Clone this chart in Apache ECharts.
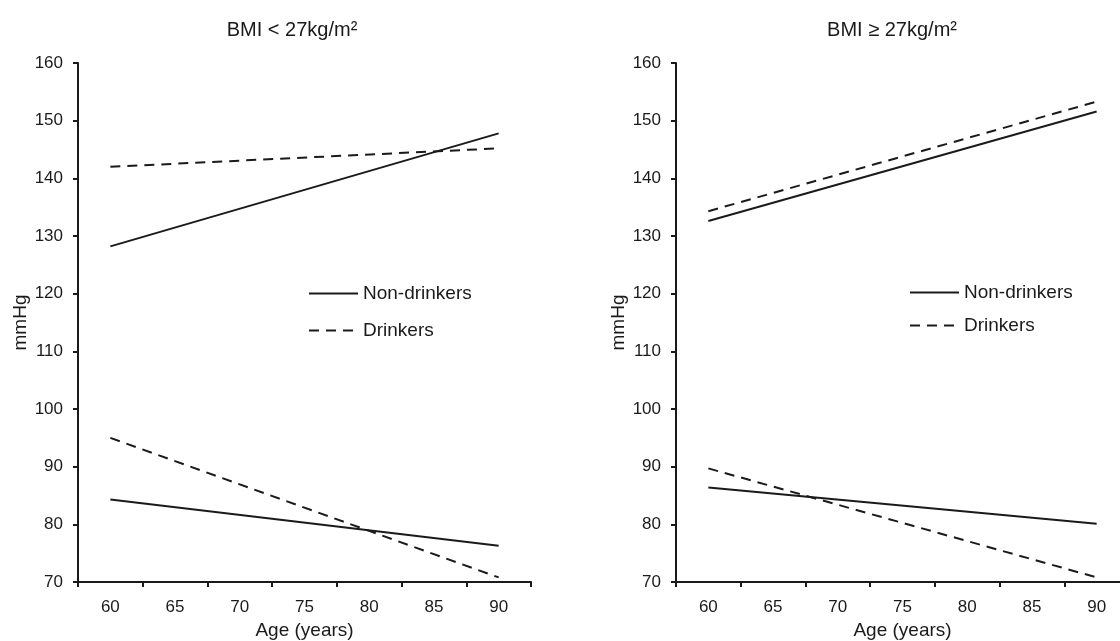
<!DOCTYPE html>
<html>
<head>
<meta charset="utf-8">
<script src="https://cdn.jsdelivr.net/npm/echarts@6/dist/echarts.min.js"></script>
<style>
  html, body { margin: 0; padding: 0; background: #fff; }
  #chart { width: 1120px; height: 641px; }
</style>
</head>
<body>
<div id="chart"></div>
<script>
// age categories (x axis)
const ages = ['60', '65', '70', '75', '80', '85', '90'];

// BMI < 27 : upper pair = systolic, lower pair = diastolic (values at 60 and 90 only)
const lowBmiNonSys = [128.2, null, null, null, null, null, 147.8];
const lowBmiDrkSys = [142.0, null, null, null, null, null, 145.2];
const lowBmiNonDia = [84.3, null, null, null, null, null, 76.3];
const lowBmiDrkDia = [95.0, null, null, null, null, null, 70.8];

// BMI >= 27
const highBmiNonSys = [132.6, null, null, null, null, null, 151.6];
const highBmiDrkSys = [134.3, null, null, null, null, null, 153.3];
const highBmiNonDia = [86.4, null, null, null, null, null, 80.1];
const highBmiDrkDia = [89.7, null, null, null, null, null, 70.8];

const ink = '#1a1a1a';
const font = 'Liberation Sans, Arial, sans-serif';

const chart = echarts.init(document.getElementById('chart'));

function xAxis(idx) {
    return {
        type: 'category', gridIndex: idx, data: ages, boundaryGap: true,
        name: 'Age (years)', nameLocation: 'middle', nameGap: 39,
        nameTextStyle: { color: ink, fontSize: 19, fontFamily: font },
        axisLine: { lineStyle: { color: ink, width: 2 } },
        axisTick: { show: true, inside: false, length: 5, interval: 0, lineStyle: { color: ink, width: 2 } },
        axisLabel: { color: ink, fontSize: 17, fontFamily: font, margin: 17, interval: 0 },
        splitLine: { show: false }
    };
}

function yAxis(idx) {
    return {
        type: 'value', gridIndex: idx, min: 70, max: 160, interval: 10,
        name: 'mmHg', nameLocation: 'middle', nameGap: 48,
        nameTextStyle: { color: ink, fontSize: 19, fontFamily: font },
        axisLine: { show: true, lineStyle: { color: ink, width: 2 } },
        axisTick: { show: true, inside: false, length: 5, lineStyle: { color: ink, width: 2 } },
        axisLabel: { color: ink, fontSize: 17, fontFamily: font, margin: 15 },
        splitLine: { show: false }
    };
}

function line(name, idx, data, dashed) {
    return {
        type: 'line', name: name, xAxisIndex: idx, yAxisIndex: idx,
        data: data, connectNulls: true, symbol: 'none', silent: true,
        lineStyle: { color: ink, width: 2, type: dashed ? [10, 7] : 'solid' },
        itemStyle: { color: ink }
    };
}

function legend(x, y, gap) {
    return {
        orient: 'vertical', left: x, top: y, itemGap: gap, padding: 0,
        itemWidth: 49, itemHeight: 14,
        data: ['Non-drinkers', 'Drinkers'],
        itemStyle: { opacity: 0 },
        lineStyle: { width: 2, color: ink },
        textStyle: { color: ink, fontSize: 19, fontFamily: font },
        selectedMode: false
    };
}

const option = {
    animation: false,
    backgroundColor: '#fff',
    title: [
        { text: 'BMI < 27kg/m²', left: 287, top: 15, textAlign: 'center',
          textStyle: { color: ink, fontSize: 20, fontWeight: 'normal', fontFamily: font } },
        { text: 'BMI ≥ 27kg/m²', left: 887, top: 15, textAlign: 'center',
          textStyle: { color: ink, fontSize: 20, fontWeight: 'normal', fontFamily: font } }
    ],
    legend: [legend(308, 284, 18), legend(909, 283, 14)],
    grid: [
        { left: 78, top: 63, width: 453, bottom: 59, outerBoundsMode: 'none', containLabel: false },
        { left: 676, top: 63, width: 453, bottom: 59, outerBoundsMode: 'none', containLabel: false }
    ],
    xAxis: [xAxis(0), xAxis(1)],
    yAxis: [yAxis(0), yAxis(1)],
    series: [
        line('Non-drinkers', 0, lowBmiNonSys, false),
        line('Drinkers', 0, lowBmiDrkSys, true),
        line('Non-drinkers', 0, lowBmiNonDia, false),
        line('Drinkers', 0, lowBmiDrkDia, true),
        line('Non-drinkers', 1, highBmiNonSys, false),
        line('Drinkers', 1, highBmiDrkSys, true),
        line('Non-drinkers', 1, highBmiNonDia, false),
        line('Drinkers', 1, highBmiDrkDia, true)
    ]
};

chart.setOption(option);
</script>
</body>
</html>
